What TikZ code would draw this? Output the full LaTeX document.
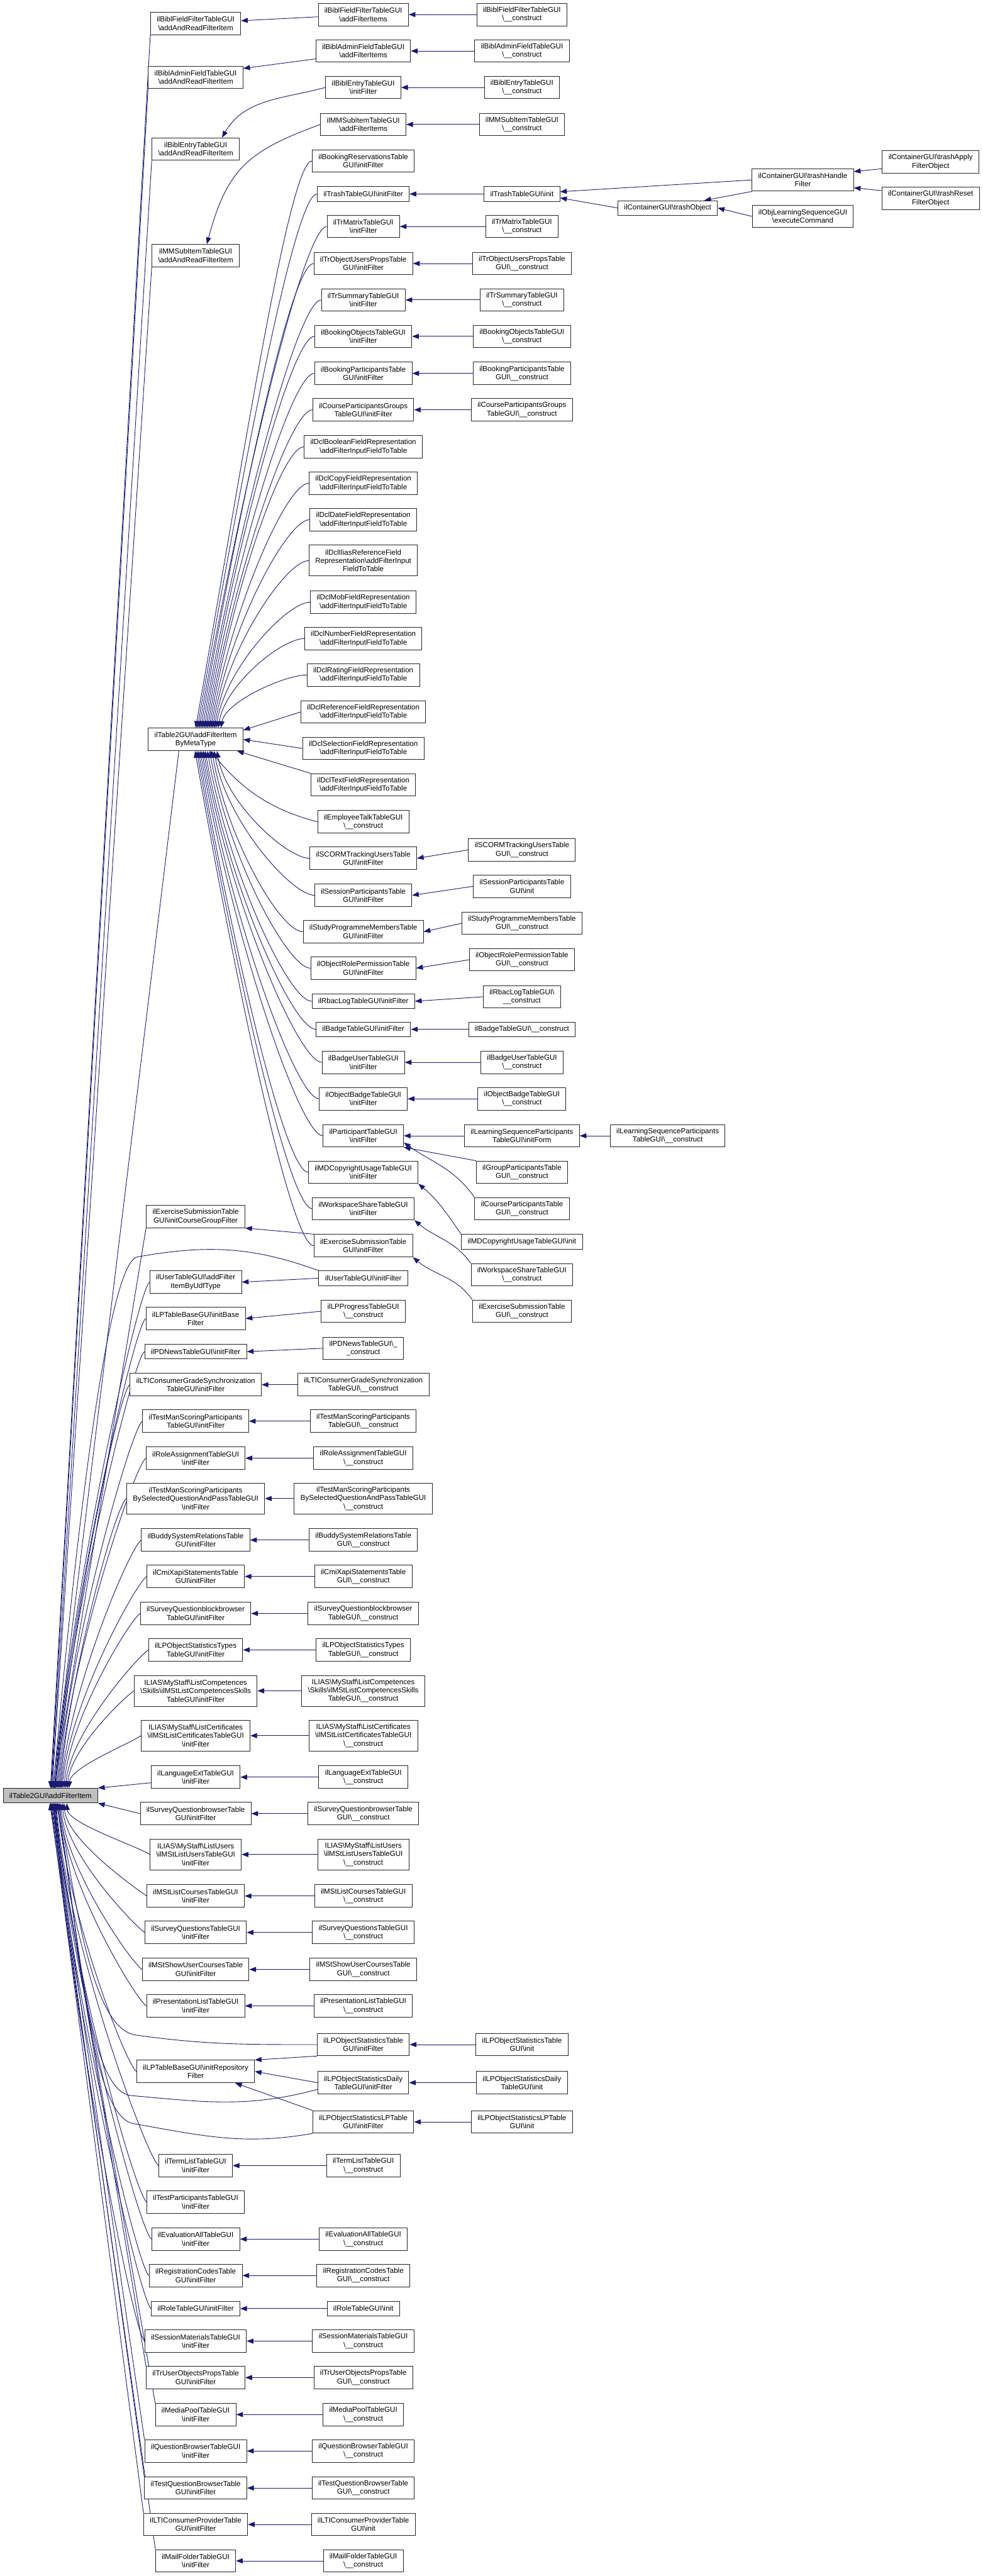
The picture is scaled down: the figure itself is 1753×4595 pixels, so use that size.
\documentclass[tikz,border=0pt]{standalone}
\usepackage{fontspec}
\setmainfont{Liberation Sans}
\usetikzlibrary{arrows.meta,backgrounds,calc}
\definecolor{callblue}{HTML}{191970}
\newcommand{\bsl}{\textbackslash}
\newcommand{\ctor}{\textbackslash\_\_construct}

\begin{document}
\begin{tikzpicture}[x=1pt, y=1pt,
    box/.style={draw=black!85, line width=1.1pt, fill=white, align=center, inner xsep=11pt, inner ysep=2pt, minimum height=26pt, font=\fontsize{13}{15}\selectfont},
    box2/.style={box, minimum height=40pt},
    box3/.style={box, minimum height=55pt},
    focusbox/.style={box, fill=black!25},
    call/.style={-{Triangle[length=12pt, width=9pt]}, draw=callblue, line width=1pt}
]
\useasboundingbox (0,0) rectangle (1753,-4595);

\node[focusbox] (addItem) at (90,-3203) {ilTable2GUI\bsl addFilterItem};

\node[box2] (bffAar) at (349,-42) {ilBiblFieldFilterTableGUI\\\bsl addAndReadFilterItem};
\node[box2] (bafAar) at (349,-138) {ilBiblAdminFieldTableGUI\\\bsl addAndReadFilterItem};
\node[box2] (beAar) at (349,-266) {ilBiblEntryTableGUI\\\bsl addAndReadFilterItem};
\node[box2] (mmsAar) at (349,-456) {ilMMSubItemTableGUI\\\bsl addAndReadFilterItem};
\node[box2] (metaType) at (349,-1319) {ilTable2GUI\bsl addFilterItem\\ByMetaType};
\node[box2] (exCg) at (349,-2170) {ilExerciseSubmissionTable\\GUI\bsl initCourseGroupFilter};
\node[box2] (userUdf) at (349,-2287) {ilUserTableGUI\bsl addFilter\\ItemByUdfType};
\node[box2] (lpBase) at (349,-2352) {ilLPTableBaseGUI\bsl initBase\\Filter};
\node[box] (newsFlt) at (349,-2411) {ilPDNewsTableGUI\bsl initFilter};
\node[box2] (ltiGradeFlt) at (349,-2470) {ilLTIConsumerGradeSynchronization\\TableGUI\bsl initFilter};
\node[box2] (msFlt) at (349,-2535) {ilTestManScoringParticipants\\TableGUI\bsl initFilter};
\node[box2] (roleAsgFlt) at (349,-2601) {ilRoleAssignmentTableGUI\\\bsl initFilter};
\node[box3] (msqFlt) at (349,-2673) {ilTestManScoringParticipants\\BySelectedQuestionAndPassTableGUI\\\bsl initFilter};
\node[box2] (buddyFlt) at (349,-2747) {ilBuddySystemRelationsTable\\GUI\bsl initFilter};
\node[box2] (xapiFlt) at (349,-2812) {ilCmiXapiStatementsTable\\GUI\bsl initFilter};
\node[box2] (qbbFlt) at (349,-2878) {ilSurveyQuestionblockbrowser\\TableGUI\bsl initFilter};
\node[box2] (lpTypesFlt) at (349,-2943) {ilLPObjectStatisticsTypes\\TableGUI\bsl initFilter};
\node[box3] (skillsFlt) at (349,-3016) {ILIAS\bsl MyStaff\bsl ListCompetences\\\bsl Skills\bsl ilMStListCompetencesSkills\\TableGUI\bsl initFilter};
\node[box3] (certFlt) at (349,-3096) {ILIAS\bsl MyStaff\bsl ListCertificates\\\bsl ilMStListCertificatesTableGUI\\\bsl initFilter};
\node[box2] (langFlt) at (349,-3170) {ilLanguageExtTableGUI\\\bsl initFilter};
\node[box2] (qbrFlt) at (349,-3235) {ilSurveyQuestionbrowserTable\\GUI\bsl initFilter};
\node[box3] (usersFlt) at (349,-3308) {ILIAS\bsl MyStaff\bsl ListUsers\\\bsl ilMStListUsersTableGUI\\\bsl initFilter};
\node[box2] (coursesFlt) at (349,-3382) {ilMStListCoursesTableGUI\\\bsl initFilter};
\node[box2] (sqFlt) at (349,-3447) {ilSurveyQuestionsTableGUI\\\bsl initFilter};
\node[box2] (showFlt) at (349,-3513) {ilMStShowUserCoursesTable\\GUI\bsl initFilter};
\node[box2] (presFlt) at (349,-3578) {ilPresentationListTableGUI\\\bsl initFilter};
\node[box2] (lpRepo) at (349,-3695) {ilLPTableBaseGUI\bsl initRepository\\Filter};
\node[box2] (termFlt) at (349,-3863) {ilTermListTableGUI\\\bsl initFilter};
\node[box2] (tstPartFlt) at (349,-3928) {ilTestParticipantsTableGUI\\\bsl initFilter};
\node[box2] (evalFlt) at (349,-3994) {ilEvaluationAllTableGUI\\\bsl initFilter};
\node[box2] (regFlt) at (349,-4059) {ilRegistrationCodesTable\\GUI\bsl initFilter};
\node[box] (roleFlt) at (349,-4118) {ilRoleTableGUI\bsl initFilter};
\node[box2] (matFlt) at (349,-4176) {ilSessionMaterialsTableGUI\\\bsl initFilter};
\node[box2] (trUserFlt) at (349,-4241) {ilTrUserObjectsPropsTable\\GUI\bsl initFilter};
\node[box2] (mepFlt) at (349,-4307) {ilMediaPoolTableGUI\\\bsl initFilter};
\node[box2] (qbFlt) at (349,-4372) {ilQuestionBrowserTableGUI\\\bsl initFilter};
\node[box2] (tqbFlt) at (349,-4438) {ilTestQuestionBrowserTable\\GUI\bsl initFilter};
\node[box2] (ltiProvFlt) at (349,-4503) {ilLTIConsumerProviderTable\\GUI\bsl initFilter};
\node[box2] (mailFlt) at (349,-4568) {ilMailFolderTableGUI\\\bsl initFilter};

\node[box2] (bffItems) at (648,-26) {ilBiblFieldFilterTableGUI\\\bsl addFilterItems};
\node[box2] (bafItems) at (648,-91) {ilBiblAdminFieldTableGUI\\\bsl addFilterItems};
\node[box2] (beFlt) at (648,-156) {ilBiblEntryTableGUI\\\bsl initFilter};
\node[box2] (mmsItems) at (648,-222) {ilMMSubItemTableGUI\\\bsl addFilterItems};
\node[box2] (bookResFlt) at (648,-287) {ilBookingReservationsTable\\GUI\bsl initFilter};
\node[box] (trashFlt) at (648,-346) {ilTrashTableGUI\bsl initFilter};
\node[box2] (matrixFlt) at (648,-404) {ilTrMatrixTableGUI\\\bsl initFilter};
\node[box2] (objPropsFlt) at (648,-470) {ilTrObjectUsersPropsTable\\GUI\bsl initFilter};
\node[box2] (summaryFlt) at (648,-535) {ilTrSummaryTableGUI\\\bsl initFilter};
\node[box2] (bookObjFlt) at (648,-600) {ilBookingObjectsTableGUI\\\bsl initFilter};
\node[box2] (bookPartFlt) at (648,-666) {ilBookingParticipantsTable\\GUI\bsl initFilter};
\node[box2] (crsGrpFlt) at (648,-731) {ilCourseParticipantsGroups\\TableGUI\bsl initFilter};
\node[box2] (dclBool) at (648,-797) {ilDclBooleanFieldRepresentation\\\bsl addFilterInputFieldToTable};
\node[box2] (dclCopy) at (648,-862) {ilDclCopyFieldRepresentation\\\bsl addFilterInputFieldToTable};
\node[box2] (dclDate) at (648,-927) {ilDclDateFieldRepresentation\\\bsl addFilterInputFieldToTable};
\node[box3] (dclIlias) at (648,-1000) {ilDclIliasReferenceField\\Representation\bsl addFilterInput\\FieldToTable};
\node[box2] (dclMob) at (648,-1074) {ilDclMobFieldRepresentation\\\bsl addFilterInputFieldToTable};
\node[box2] (dclNumber) at (648,-1139) {ilDclNumberFieldRepresentation\\\bsl addFilterInputFieldToTable};
\node[box2] (dclRating) at (648,-1204) {ilDclRatingFieldRepresentation\\\bsl addFilterInputFieldToTable};
\node[box2] (dclRef) at (648,-1270) {ilDclReferenceFieldRepresentation\\\bsl addFilterInputFieldToTable};
\node[box2] (dclSel) at (648,-1335) {ilDclSelectionFieldRepresentation\\\bsl addFilterInputFieldToTable};
\node[box2] (dclText) at (648,-1400) {ilDclTextFieldRepresentation\\\bsl addFilterInputFieldToTable};
\node[box2] (talkCtor) at (648,-1466) {ilEmployeeTalkTableGUI\\\ctor};
\node[box2] (scormFlt) at (648,-1531) {ilSCORMTrackingUsersTable\\GUI\bsl initFilter};
\node[box2] (sessPartFlt) at (648,-1597) {ilSessionParticipantsTable\\GUI\bsl initFilter};
\node[box2] (prgFlt) at (648,-1662) {ilStudyProgrammeMembersTable\\GUI\bsl initFilter};
\node[box2] (permFlt) at (648,-1727) {ilObjectRolePermissionTable\\GUI\bsl initFilter};
\node[box] (rbacFlt) at (648,-1786) {ilRbacLogTableGUI\bsl initFilter};
\node[box] (badgeFlt) at (648,-1836) {ilBadgeTableGUI\bsl initFilter};
\node[box2] (badgeUserFlt) at (648,-1895) {ilBadgeUserTableGUI\\\bsl initFilter};
\node[box2] (objBadgeFlt) at (648,-1960) {ilObjectBadgeTableGUI\\\bsl initFilter};
\node[box2] (partFlt) at (648,-2026) {ilParticipantTableGUI\\\bsl initFilter};
\node[box2] (mdFlt) at (648,-2091) {ilMDCopyrightUsageTableGUI\\\bsl initFilter};
\node[box2] (wspFlt) at (648,-2156) {ilWorkspaceShareTableGUI\\\bsl initFilter};
\node[box2] (exFlt) at (648,-2222) {ilExerciseSubmissionTable\\GUI\bsl initFilter};
\node[box] (userFlt) at (648,-2280) {ilUserTableGUI\bsl initFilter};
\node[box2] (lpProgCtor) at (648,-2339) {ilLPProgressTableGUI\\\ctor};
\node[box2] (newsCtor) at (648,-2405) {ilPDNewsTableGUI\bsl\_\\\_construct};
\node[box2] (ltiGradeCtor) at (648,-2470) {ilLTIConsumerGradeSynchronization\\TableGUI\ctor};
\node[box2] (msCtor) at (648,-2535) {ilTestManScoringParticipants\\TableGUI\ctor};
\node[box2] (roleAsgCtor) at (648,-2601) {ilRoleAssignmentTableGUI\\\ctor};
\node[box3] (msqCtor) at (648,-2673) {ilTestManScoringParticipants\\BySelectedQuestionAndPassTableGUI\\\ctor};
\node[box2] (buddyCtor) at (648,-2747) {ilBuddySystemRelationsTable\\GUI\ctor};
\node[box2] (xapiCtor) at (648,-2812) {ilCmiXapiStatementsTable\\GUI\ctor};
\node[box2] (qbbCtor) at (648,-2878) {ilSurveyQuestionblockbrowser\\TableGUI\ctor};
\node[box2] (lpTypesCtor) at (648,-2943) {ilLPObjectStatisticsTypes\\TableGUI\ctor};
\node[box3] (skillsCtor) at (648,-3016) {ILIAS\bsl MyStaff\bsl ListCompetences\\\bsl Skills\bsl ilMStListCompetencesSkills\\TableGUI\ctor};
\node[box3] (certCtor) at (648,-3096) {ILIAS\bsl MyStaff\bsl ListCertificates\\\bsl ilMStListCertificatesTableGUI\\\ctor};
\node[box2] (langCtor) at (648,-3170) {ilLanguageExtTableGUI\\\ctor};
\node[box2] (qbrCtor) at (648,-3235) {ilSurveyQuestionbrowserTable\\GUI\ctor};
\node[box3] (usersCtor) at (648,-3308) {ILIAS\bsl MyStaff\bsl ListUsers\\\bsl ilMStListUsersTableGUI\\\ctor};
\node[box2] (coursesCtor) at (648,-3382) {ilMStListCoursesTableGUI\\\ctor};
\node[box2] (sqCtor) at (648,-3447) {ilSurveyQuestionsTableGUI\\\ctor};
\node[box2] (showCtor) at (648,-3513) {ilMStShowUserCoursesTable\\GUI\ctor};
\node[box2] (presCtor) at (648,-3578) {ilPresentationListTableGUI\\\ctor};
\node[box2] (lpStatFlt) at (648,-3647) {ilLPObjectStatisticsTable\\GUI\bsl initFilter};
\node[box2] (lpDailyFlt) at (648,-3715) {ilLPObjectStatisticsDaily\\TableGUI\bsl initFilter};
\node[box2] (lpLpFlt) at (648,-3785) {ilLPObjectStatisticsLPTable\\GUI\bsl initFilter};
\node[box2] (termCtor) at (648,-3863) {ilTermListTableGUI\\\ctor};
\node[box2] (evalCtor) at (648,-3994) {ilEvaluationAllTableGUI\\\ctor};
\node[box2] (regCtor) at (648,-4059) {ilRegistrationCodesTable\\GUI\ctor};
\node[box] (roleInit) at (648,-4118) {ilRoleTableGUI\bsl init};
\node[box2] (matCtor) at (648,-4176) {ilSessionMaterialsTableGUI\\\ctor};
\node[box2] (trUserCtor) at (648,-4241) {ilTrUserObjectsPropsTable\\GUI\ctor};
\node[box2] (mepCtor) at (648,-4307) {ilMediaPoolTableGUI\\\ctor};
\node[box2] (qbCtor) at (648,-4372) {ilQuestionBrowserTableGUI\\\ctor};
\node[box2] (tqbCtor) at (648,-4438) {ilTestQuestionBrowserTable\\GUI\ctor};
\node[box2] (ltiProvInit) at (648,-4503) {ilLTIConsumerProviderTable\\GUI\bsl init};
\node[box2] (mailCtor) at (648,-4568) {ilMailFolderTableGUI\\\ctor};

\node[box2] (bffCtor) at (931,-26) {ilBiblFieldFilterTableGUI\\\ctor};
\node[box2] (bafCtor) at (931,-91) {ilBiblAdminFieldTableGUI\\\ctor};
\node[box2] (beCtor) at (931,-156) {ilBiblEntryTableGUI\\\ctor};
\node[box2] (mmsCtor) at (931,-222) {ilMMSubItemTableGUI\\\ctor};
\node[box] (trashInit) at (931,-346) {ilTrashTableGUI\bsl init};
\node[box2] (matrixCtor) at (931,-404) {ilTrMatrixTableGUI\\\ctor};
\node[box2] (objPropsCtor) at (931,-470) {ilTrObjectUsersPropsTable\\GUI\ctor};
\node[box2] (summaryCtor) at (931,-535) {ilTrSummaryTableGUI\\\ctor};
\node[box2] (bookObjCtor) at (931,-600) {ilBookingObjectsTableGUI\\\ctor};
\node[box2] (bookPartCtor) at (931,-666) {ilBookingParticipantsTable\\GUI\ctor};
\node[box2] (crsGrpCtor) at (931,-731) {ilCourseParticipantsGroups\\TableGUI\ctor};
\node[box2] (scormCtor) at (931,-1516) {ilSCORMTrackingUsersTable\\GUI\ctor};
\node[box2] (sessPartInit) at (931,-1581) {ilSessionParticipantsTable\\GUI\bsl init};
\node[box2] (prgCtor) at (931,-1647) {ilStudyProgrammeMembersTable\\GUI\ctor};
\node[box2] (permCtor) at (931,-1712) {ilObjectRolePermissionTable\\GUI\ctor};
\node[box2] (rbacCtor) at (931,-1778) {ilRbacLogTableGUI\bsl\\\_\_construct};
\node[box] (badgeCtor) at (931,-1836) {ilBadgeTableGUI\ctor};
\node[box2] (badgeUserCtor) at (931,-1895) {ilBadgeUserTableGUI\\\ctor};
\node[box2] (objBadgeCtor) at (931,-1960) {ilObjectBadgeTableGUI\\\ctor};
\node[box2] (lsForm) at (931,-2026) {ilLearningSequenceParticipants\\TableGUI\bsl initForm};
\node[box2] (grpPartCtor) at (931,-2091) {ilGroupParticipantsTable\\GUI\ctor};
\node[box2] (crsPartCtor) at (931,-2156) {ilCourseParticipantsTable\\GUI\ctor};
\node[box] (mdInit) at (931,-2215) {ilMDCopyrightUsageTableGUI\bsl init};
\node[box2] (wspCtor) at (931,-2274) {ilWorkspaceShareTableGUI\\\ctor};
\node[box2] (exCtor) at (931,-2339) {ilExerciseSubmissionTable\\GUI\ctor};
\node[box2] (lpStatInit) at (931,-3647) {ilLPObjectStatisticsTable\\GUI\bsl init};
\node[box2] (lpDailyInit) at (931,-3715) {ilLPObjectStatisticsDaily\\TableGUI\bsl init};
\node[box2] (lpLpInit) at (931,-3785) {ilLPObjectStatisticsLPTable\\GUI\bsl init};

\node[box] (trashObj) at (1191,-371) {ilContainerGUI\bsl trashObject};
\node[box2] (lsCtor) at (1191,-2026) {ilLearningSequenceParticipants\\TableGUI\ctor};
\node[box2] (trashHandle) at (1432,-321) {ilContainerGUI\bsl trashHandle\\Filter};
\node[box2] (lsExec) at (1432,-386) {ilObjLearningSequenceGUI\\\bsl executeCommand};
\node[box2] (trashApply) at (1660,-289) {ilContainerGUI\bsl trashApply\\FilterObject};
\node[box2] (trashReset) at (1660,-354) {ilContainerGUI\bsl trashReset\\FilterObject};

\coordinate (userBend) at (245,-2242);
\coordinate (statBend) at (242,-3630);
\coordinate (dailyBend) at (234,-3738);
\coordinate (lpBend) at (238,-3788);

\begin{pgfonlayer}{background}
\fill[white] (0,0) rectangle (1753,-4595);

\foreach \src/\dst in {bffCtor/bffItems, bafCtor/bafItems, beCtor/beFlt, mmsCtor/mmsItems, trashInit/trashFlt, matrixCtor/matrixFlt, objPropsCtor/objPropsFlt, summaryCtor/summaryFlt, bookObjCtor/bookObjFlt, bookPartCtor/bookPartFlt, crsGrpCtor/crsGrpFlt, scormCtor/scormFlt, sessPartInit/sessPartFlt, prgCtor/prgFlt, permCtor/permFlt, rbacCtor/rbacFlt, badgeCtor/badgeFlt, badgeUserCtor/badgeUserFlt, objBadgeCtor/objBadgeFlt, lsCtor/lsForm, lsForm/partFlt, lsExec/trashObj, lpStatInit/lpStatFlt, lpDailyInit/lpDailyFlt, lpLpInit/lpLpFlt, lpDailyFlt/lpRepo, userFlt/userUdf, lpProgCtor/lpBase, newsCtor/newsFlt, ltiGradeCtor/ltiGradeFlt, msCtor/msFlt, roleAsgCtor/roleAsgFlt, msqCtor/msqFlt, buddyCtor/buddyFlt, xapiCtor/xapiFlt, qbbCtor/qbbFlt, lpTypesCtor/lpTypesFlt, skillsCtor/skillsFlt, certCtor/certFlt, langCtor/langFlt, qbrCtor/qbrFlt, usersCtor/usersFlt, coursesCtor/coursesFlt, sqCtor/sqFlt, showCtor/showFlt, presCtor/presFlt, termCtor/termFlt, evalCtor/evalFlt, regCtor/regFlt, roleInit/roleFlt, matCtor/matFlt, trUserCtor/trUserFlt, mepCtor/mepFlt, qbCtor/qbFlt, tqbCtor/tqbFlt, ltiProvInit/ltiProvFlt, mailCtor/mailFlt, dclSel/metaType}
  \draw[call] (\src.west) -- (\dst.east);

\draw[call] (trashHandle.west) -- ([yshift=4pt]trashInit.east);
\draw[call] (trashObj.west) -- ([yshift=-7pt]trashInit.east);
\draw[call] (trashHandle.south west) -- ([xshift=-24pt]trashObj.north east);
\draw[call] ([yshift=-12pt]trashApply.west) -- ([yshift=15pt]trashHandle.east);
\draw[call] ([yshift=14pt]trashReset.west) -- ([yshift=-14pt]trashHandle.east);

\draw[call] ([yshift=-4pt]bffItems.west) -- ([yshift=5pt]bffAar.east);
\draw[call] ([yshift=-14pt]bafItems.west) -- ([yshift=16pt]bafAar.east);
\draw[call] (beFlt.west) to[out=195, in=60] ([xshift=47pt]beAar.north);
\draw[call] (mmsItems.west) to[out=200, in=75, looseness=1.2] ([xshift=20pt]mmsAar.north);

\foreach \src/\sh in {bookResFlt/0, trashFlt/3, matrixFlt/6, objPropsFlt/9, summaryFlt/12, bookObjFlt/15, bookPartFlt/18, crsGrpFlt/21, dclBool/24, dclCopy/27, dclDate/30, dclIlias/33, dclMob/36, dclNumber/40, dclRating/45}
  \draw[call] let \p1=(\src.west), \p2=(metaType.north), \n1={0.5*abs(\y1-\y2)} in (\src.west) to[out=180, in=80, out distance=40pt, in distance=\n1] ([xshift=\sh pt]metaType.north);
\foreach \src/\sh in {scormFlt/38, sessPartFlt/33, prgFlt/29, permFlt/25, rbacFlt/21, badgeFlt/17, badgeUserFlt/14, objBadgeFlt/11, partFlt/8, mdFlt/5, wspFlt/2, exFlt/-1}
  \draw[call] let \p1=(\src.west), \p2=(metaType.south), \n1={0.5*abs(\y1-\y2)} in (\src.west) to[out=180, in=-80, out distance=40pt, in distance=\n1] ([xshift=\sh pt]metaType.south);
\draw[call] (dclRef.west) -- ([yshift=-4pt]metaType.north east);
\draw[call] (dclText.north west) -- ([xshift=-11pt]metaType.south east);
\draw[call] (talkCtor.west) to[out=165, in=-50] ([xshift=26pt]metaType.south);

\draw[call] (grpPartCtor.north west) -- (partFlt.south east);
\draw[call] (crsPartCtor.north west) to[out=125, in=-35] ([yshift=-12pt]partFlt.east);
\draw[call] (mdInit.north west) to[out=125, in=-40] (mdFlt.south east);
\draw[call] (wspCtor.north west) to[out=125, in=-40] (wspFlt.south east);
\draw[call] (exCtor.north west) to[out=125, in=-40] (exFlt.south east);
\draw[call] (exFlt.north west) -- (exCg.south east);

\draw[call] (lpStatFlt.south west) -- (lpRepo.north east);
\draw[call] (lpLpFlt.north west) -- ([xshift=-35pt]lpRepo.south east);

\foreach \src/\sh in {bffAar/0, bafAar/1, beAar/2, mmsAar/3, exCg/6}
  \draw[call] (\src.south west) -- ([xshift=\sh pt]addItem.north);
\draw[call] ([xshift=-30pt]metaType.south) -- ([xshift=4pt]addItem.north);
\foreach \src/\sh in {userUdf/7, lpBase/8, newsFlt/9, ltiGradeFlt/11, msFlt/13, roleAsgFlt/15, msqFlt/17, buddyFlt/19, xapiFlt/21, qbbFlt/24, lpTypesFlt/27, skillsFlt/30, certFlt/33}
  \draw[call] let \p1=(\src.west), \p2=(addItem.north), \n1={0.4*abs(\y1-\y2)} in (\src.west) to[out=215, in=85, out distance=25pt, in distance=\n1] ([xshift=\sh pt]addItem.north);
\foreach \src/\sh in {usersFlt/29, coursesFlt/24, sqFlt/21, showFlt/18, presFlt/16, lpRepo/13, termFlt/10, tstPartFlt/9, evalFlt/8, regFlt/7, roleFlt/6, matFlt/5}
  \draw[call] let \p1=(\src.west), \p2=(addItem.south), \n1={0.4*abs(\y1-\y2)} in (\src.west) to[out=145, in=-85, out distance=25pt, in distance=\n1] ([xshift=\sh pt]addItem.south);
\foreach \src/\sh in {trUserFlt/4, mepFlt/3, qbFlt/2, tqbFlt/1, ltiProvFlt/0, mailFlt/-1}
  \draw[call] (\src.north west) -- ([xshift=\sh pt]addItem.south);

\draw[call] (userFlt.north west) to[out=160, in=10] (userBend) to[out=190, in=85, out distance=60pt, in distance=330pt] ([xshift=5pt]addItem.north);
\draw[call] ([yshift=-10pt]langFlt.west) -- (addItem.north east);
\draw[call] (qbrFlt.west) -- (addItem.south east);
\draw[call] (lpStatFlt.west) to[out=180, in=-8] (statBend) to[out=172, in=-80, out distance=80pt] ([xshift=14pt]addItem.south);
\draw[call] ([yshift=-12pt]lpDailyFlt.west) to[out=195, in=-5] (dailyBend) to[out=175, in=-80, out distance=80pt] ([xshift=12pt]addItem.south);
\draw[call] (lpLpFlt.south west) to[out=190, in=-10] (lpBend) to[out=170, in=-80, out distance=80pt] ([xshift=11pt]addItem.south);
\end{pgfonlayer}
\end{tikzpicture}
\end{document}
